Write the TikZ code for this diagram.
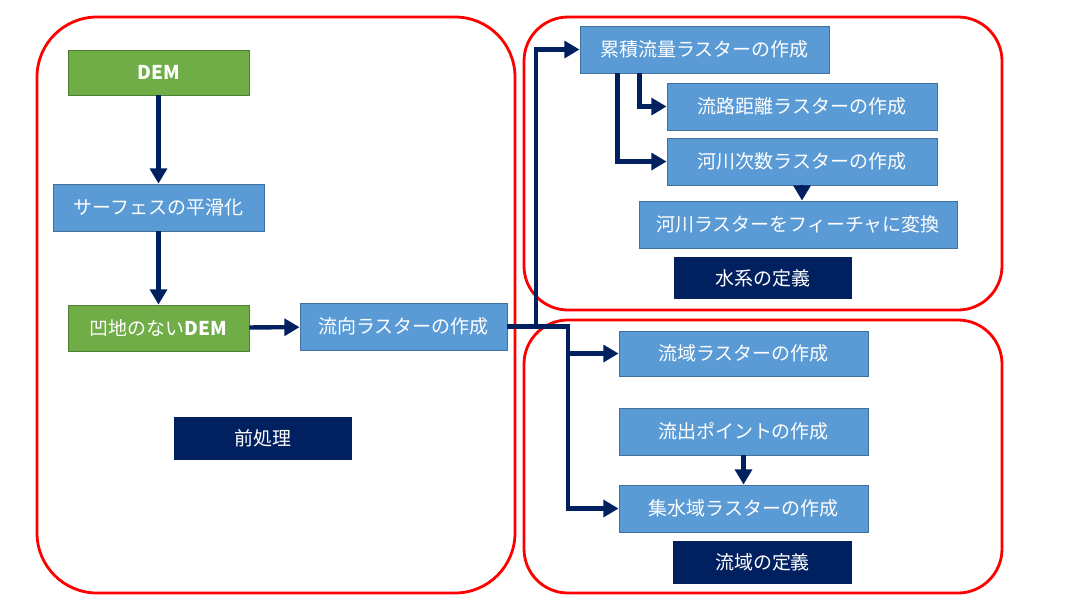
\documentclass[tikz,border=0pt]{standalone}
\usepackage{fontspec}
\setmainfont{Noto Sans CJK JP}
\usetikzlibrary{arrows.meta,calc}
\definecolor{boxblue}{HTML}{5B9BD5}
\definecolor{boxblueline}{HTML}{41719C}
\definecolor{boxgreen}{HTML}{70AD47}
\definecolor{boxgreenline}{HTML}{507E32}
\definecolor{navy}{HTML}{002060}
\tikzset{
  stepbox/.style={draw=boxblueline, fill=boxblue, text=white, line width=0.6pt,
    minimum height=1.175cm, inner sep=0pt, font=\fontsize{13.5}{16}\selectfont},
  databox/.style={stepbox, draw=boxgreenline, fill=boxgreen},
  titlebox/.style={fill=navy, text=white, minimum height=1.075cm, minimum width=4.45cm,
    inner sep=0pt, font=\fontsize{13.5}{16}\selectfont},
  group/.style={draw=red, line width=2pt},
  conn/.style={draw=navy, line width=3.1pt, -{Triangle[length=0.38cm,width=0.42cm]}}
}
\begin{document}
\begin{tikzpicture}[x=0.025cm, y=-0.025cm]
		%%%%% START %%%%%
		\useasboundingbox (0,0) rectangle (1069,601);
		
		\draw[group, rounded corners=1.5cm] (37, 17) rectangle (515, 593);
		\draw[group, rounded corners=1.1cm] (524, 17) rectangle (1002, 310);
		\draw[group, rounded corners=1.1cm] (524, 320) rectangle (1002, 593);
		
		% preprocessing
		\node[databox, minimum width=4.525cm, minimum height=1.125cm] (dem) at (158.5, 72.5) {\bfseries DEM};
		\node[stepbox, minimum width=5.275cm] (smooth) at (158.5, 207.5) {サーフェスの平滑化};
		\node[databox, minimum width=4.525cm, minimum height=1.15cm] (fill) at (158.5, 328) {凹地のない\textbf{DEM}};
		\node[stepbox, minimum width=5.175cm] (flowdir) at (403.5, 326.5) {流向ラスターの作成};
		\node[titlebox] (pre) at (263, 438.5) {前処理};
		
		% stream network
		\node[stepbox, minimum width=6.225cm] (accum) at (704.5, 49.5) {累積流量ラスターの作成};
		\node[stepbox, minimum width=6.75cm] (length) at (802, 106.5) {流路距離ラスターの作成};
		\node[stepbox, minimum width=6.75cm] (order) at (802, 161.5) {河川次数ラスターの作成};
		\node[stepbox, minimum width=7.95cm] (river) at (798, 224.5) {河川ラスターをフィーチャに変換};
		\node[titlebox, minimum height=1.05cm] (stream) at (763, 278) {水系の定義};
		
		% watershed
		\node[stepbox, minimum width=6.225cm, minimum height=1.125cm] (basin) at (743.5, 353.5) {流域ラスターの作成};
		\node[stepbox, minimum width=6.225cm] (outlet) at (743.5, 431.5) {流出ポイントの作成};
		\node[stepbox, minimum width=6.225cm] (catch) at (743.5, 508.5) {集水域ラスターの作成};
		\node[titlebox] (shed) at (762.5, 562.5) {流域の定義};
		
		\coordinate (up) at (536, 0);
		\coordinate (split) at (568, 0);
		
		\draw[conn] (dem) -- (smooth);
		\draw[conn] (smooth) -- (fill);
		\draw[conn] (fill) -- (flowdir);
		\draw[conn] (flowdir.east) -| (split |- catch.west) -- (catch.west);
		\draw[conn] (split |- basin.west) -- (basin.west);
		\draw[conn] (up |- flowdir.east) |- (accum.west);
		\draw[conn] ($(accum.south west)+(60,0)$) |- (length.west);
		\draw[conn] ($(accum.south west)+(38,0)$) |- (order.west);
		\draw[conn] (order.south) -- (order.south |- river.north);
		\draw[conn] (outlet) -- (catch);
		
		%%%%% END %%%%%
	\end{tikzpicture}
\end{document}
